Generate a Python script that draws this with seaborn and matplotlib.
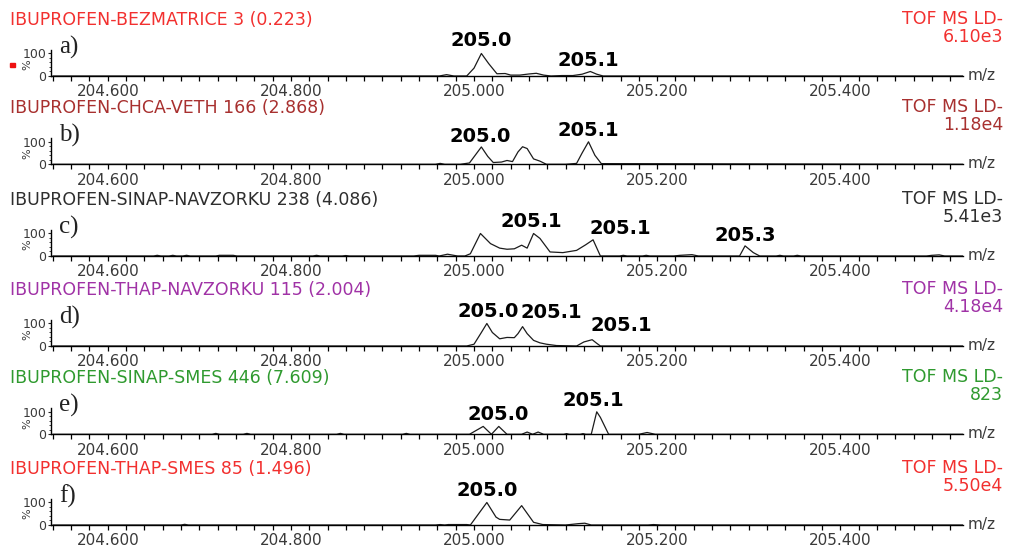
import matplotlib
matplotlib.use("Agg")
import numpy as np
import matplotlib.pyplot as plt
from matplotlib.ticker import MultipleLocator, FixedLocator, FormatStrFormatter
from matplotlib.patches import Rectangle
import seaborn as sns

# ---------------------------------------------------------------- data
titles = [
    "IBUPROFEN-BEZMATRICE 3 (0.223)",
    "IBUPROFEN-CHCA-VETH 166 (2.868)",
    "IBUPROFEN-SINAP-NAVZORKU 238 (4.086)",
    "IBUPROFEN-THAP-NAVZORKU 115 (2.004)",
    "IBUPROFEN-SINAP-SMES 446 (7.609)",
    "IBUPROFEN-THAP-SMES 85 (1.496)",
]
scales = ["6.10e3", "1.18e4", "5.41e3", "4.18e4", "823", "5.50e4"]
letters = ["a)", "b)", "c)", "d)", "e)", "f)"]
x_ticks = [204.6, 204.8, 205.0, 205.2, 205.4]

a_mz = [204.540, 204.962, 204.970, 204.978, 204.992, 205.000, 205.008, 205.016,
        205.025, 205.034, 205.040, 205.050, 205.060, 205.068, 205.076, 205.084,
        205.096, 205.108, 205.118, 205.127, 205.134, 205.141, 205.534]
a_int = [0, 0, 6, 0, 0, 35, 100, 55,
         10, 11, 4, 4, 9, 12, 4, 0,
         2, 2, 8, 20, 8, 0, 0]
a_peaks = [205.008, 205.127]

b_mz = [204.540, 204.958, 204.963, 204.968, 204.985, 204.995, 205.008, 205.015,
        205.021, 205.030, 205.036, 205.042, 205.048, 205.053, 205.058, 205.065,
        205.072, 205.079, 205.100, 205.112, 205.118, 205.125, 205.132, 205.139,
        205.534]
b_int = [0, 0, 4, 0, 0, 6, 77, 35,
         8, 10, 17, 12, 55, 78, 70, 24,
         14, 0, 0, 4, 50, 100, 40, 3,
         0]
b_peaks = [205.008, 205.125]

c_mz = [204.540, 204.650, 204.654, 204.658, 204.667, 204.671, 204.675, 204.682,
        204.686, 204.690, 204.718, 204.722, 204.730, 204.737, 204.741, 204.824,
        204.828, 204.832, 204.856, 204.860, 204.864, 204.934, 204.940, 204.950,
        204.958, 204.962, 204.971, 204.982, 204.990, 204.996, 205.007, 205.018,
        205.028, 205.036, 205.044, 205.052, 205.058, 205.065, 205.072, 205.083,
        205.097, 205.112, 205.122, 205.130, 205.138, 205.159, 205.163, 205.167,
        205.184, 205.188, 205.192, 205.218, 205.225, 205.238, 205.245, 205.290,
        205.296, 205.305, 205.312, 205.330, 205.334, 205.338, 205.349, 205.353,
        205.357, 205.494, 205.500, 205.508, 205.514, 205.534]
c_int = [0, 0, 3, 0, 0, 3, 0, 0,
         3, 0, 0, 3, 3, 3, 0, 0,
         3, 0, 0, 2, 0, 0, 3, 3,
         3, 0, 8, 0, 0, 10, 100, 55,
         35, 30, 32, 48, 35, 100, 78, 18,
         15, 25, 50, 72, 0, 0, 3, 0,
         0, 3, 0, 0, 3, 6, 0, 0,
         45, 15, 0, 0, 3, 0, 0, 3,
         0, 0, 3, 5, 0, 0]
c_peaks = [205.065, 205.130, 205.296]

d_mz = [204.540, 204.992, 205.000, 205.008, 205.014, 205.020, 205.028, 205.036,
        205.044, 205.048, 205.053, 205.058, 205.065, 205.072, 205.079, 205.090,
        205.112, 205.120, 205.129, 205.134, 205.138, 205.534]
d_int = [0, 0, 8, 60, 100, 60, 32, 38,
         37, 55, 86, 55, 25, 14, 8, 2,
         0, 18, 28, 12, 0, 0]
d_peaks = [205.014, 205.053, 205.129]

e_mz = [204.540, 204.714, 204.718, 204.722, 204.748, 204.752, 204.756, 204.850,
        204.854, 204.858, 204.922, 204.926, 204.930, 204.995, 205.010, 205.019,
        205.027, 205.036, 205.052, 205.058, 205.064, 205.070, 205.076, 205.098,
        205.101, 205.104, 205.116, 205.119, 205.122, 205.128, 205.134, 205.138,
        205.147, 205.180, 205.189, 205.198, 205.534]
e_int = [0, 0, 4, 0, 0, 4, 0, 0,
         4, 0, 0, 4, 0, 0, 35, 0,
         35, 0, 0, 10, 0, 10, 0, 0,
         3, 0, 0, 3, 0, 0, 100, 75,
         0, 0, 8, 0, 0]
e_peaks = [205.027, 205.134]

f_mz = [204.540, 204.680, 204.684, 204.688, 204.958, 204.963, 204.968, 204.972,
        204.980, 204.992, 204.996, 205.014, 205.024, 205.028, 205.039, 205.052,
        205.065, 205.075, 205.100, 205.114, 205.121, 205.128, 205.190, 205.196,
        205.204, 205.534]
f_int = [0, 0, 3, 0, 0, 2, 0, 2,
         2, 2, 0, 100, 35, 25, 22, 86,
         12, 2, 0, 6, 8, 0, 0, 2,
         0, 0]
f_peaks = [205.014]

spectra = [(a_mz, a_int, a_peaks), (b_mz, b_int, b_peaks), (c_mz, c_int, c_peaks),
           (d_mz, d_int, d_peaks), (e_mz, e_int, e_peaks), (f_mz, f_int, f_peaks)]

# ---------------------------------------------------------------- styling
panel_colors = ["#f2302f", "#a8302f", "#2e2e2e", "#a032a6", "#2f9a2f", "#f2302f"]
# horizontal / vertical pixel shift of each peak label
label_shift = [
    [(0, 3), (-2, 1)],
    [(-1, 1), (0, 2)],
    [(-2, 2), (27, 2), (0, 1)],
    [(1, 2), (29, 5), (29, 5)],
    [(-1, 2), (-3, 2)],
    [(0, 2)],
]
baselines = [76, 164.3, 256, 346, 434.3, 525]   # pixel row of each axis line

W, H = 1011, 547
LINE = "#1c1c1c"
TICKC = "#3a3a3a"

sns.set_style("white")
plt.rcParams["font.family"] = ["DejaVu Sans"]

fig = plt.figure(figsize=(W / 100, H / 100), dpi=100)
fig.patch.set_facecolor("white")


def fx(px):
    return px / W


def fy(py):
    return 1 - py / H


AX_LEFT, AX_RIGHT, AX_H = 51, 963, 26

for i, (mz, inten, peaks) in enumerate(spectra):
    base = baselines[i]
    col = panel_colors[i]
    ax = fig.add_axes([fx(AX_LEFT), fy(base), (AX_RIGHT - AX_LEFT) / W, AX_H / H])
    ax.set_facecolor("none")
    sns.lineplot(x=mz, y=inten, ax=ax, color=LINE, linewidth=0.9,
                 estimator=None, sort=False)
    ax.set_xlim(204.538, 205.534)
    ax.set_ylim(0, 115.5)
    ax.set_xlabel("")
    ax.set_ylabel("")

    for side in ("top", "right"):
        ax.spines[side].set_visible(False)
    for side in ("left", "bottom"):
        ax.spines[side].set_color("black")
        ax.spines[side].set_linewidth(1.0)

    ax.xaxis.set_major_locator(FixedLocator(x_ticks))
    ax.xaxis.set_minor_locator(MultipleLocator(0.02))
    ax.xaxis.set_major_formatter(FormatStrFormatter("%.3f"))
    ax.tick_params(axis="x", which="both", direction="out", length=3.5,
                   width=0.9, color="black", pad=2.5, labelsize=11,
                   labelcolor=TICKC, bottom=True)
    ax.set_yticks([0, 100])
    ax.set_yticklabels(["0", "100"])
    ax.yaxis.set_minor_locator(MultipleLocator(20))
    ax.tick_params(axis="y", which="major", direction="out", length=2.5,
                   width=0.8, pad=1, labelsize=9, labelcolor=TICKC, left=True)
    ax.tick_params(axis="y", which="minor", direction="out", length=1.5,
                   width=0.6, left=True)

    # peak labels, text taken from the peak position
    for (pk, (dx, dy)) in zip(peaks, label_shift[i]):
        yv = float(np.interp(pk, mz, inten))
        ax.annotate(f"{pk:.1f}", xy=(pk, yv), xytext=(dx, dy),
                    textcoords="offset pixels", ha="center", va="bottom",
                    fontsize=14, fontweight="bold", color="black",
                    annotation_clip=False)

    # headers and side labels
    fig.text(fx(10), fy(base - 56), titles[i], ha="left", va="center",
             fontsize=12.5, color=col)
    fig.text(fx(1003), fy(base - 57), "TOF MS LD-", ha="right", va="center",
             fontsize=12.5, color=col)
    fig.text(fx(1003), fy(base - 39), scales[i], ha="right", va="center",
             fontsize=12.5, color=col)
    fig.text(fx(59), fy(base - 29), letters[i], ha="left", va="center",
             fontsize=18, family=["Liberation Serif"], color="#222222")
    fig.text(fx(968), fy(base - 0.5), "m/z", ha="left", va="center",
             fontsize=11, color=TICKC)
    fig.text(fx(27), fy(base - 11), "%", ha="center", va="center",
             rotation=90, fontsize=8, color=TICKC)

# small red marker at the left of the first trace
fig.patches.append(Rectangle((fx(10), fy(67)), 5 / W, 4 / H,
                             transform=fig.transFigure, color="#ee1111",
                             figure=fig))

fig.savefig("out.png", dpi=100, facecolor="white")
